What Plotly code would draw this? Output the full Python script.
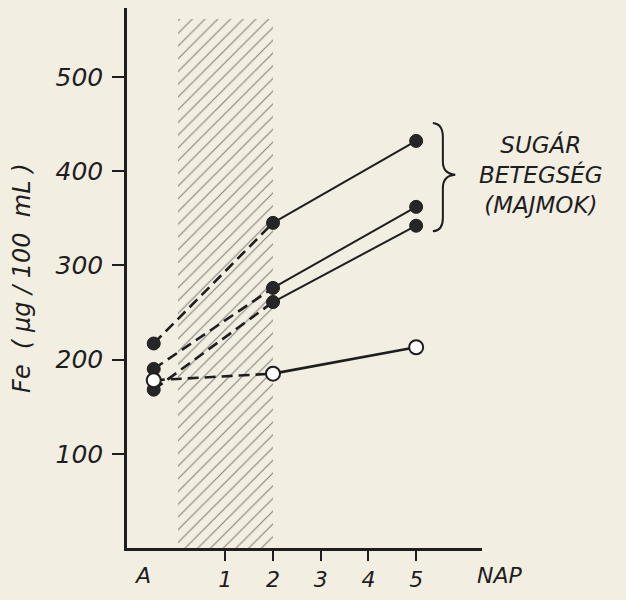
import plotly.graph_objects as go

# ---- data ----
A_POS = -0.5                      # position of the "A" (baseline) measurement
days_label = ["1", "2", "3", "4", "5"]
days_vals = [1, 2, 3, 4, 5]
irradiation = [0, 2]              # hatched period (days)
hatch_top = 561

ill_A = [217, 190, 168]           # radiation-sick monkeys, baseline
ill_d2 = [345, 276, 261]          # day 2
ill_d5 = [432, 362, 342]          # day 5

ctrl_A = [178]
ctrl_d2 = [185]
ctrl_d5 = [213]

yticks = [100, 200, 300, 400, 500]

INK = "#1e1e1e"
BG = "#f3eee2"
FONT = "DejaVu Sans"

fig = go.Figure()

# hatched irradiation period
fig.add_trace(go.Bar(
    x=[(irradiation[0] + irradiation[1]) / 2], y=[hatch_top], base=0,
    width=[irradiation[1] - irradiation[0]],
    marker=dict(color="rgba(0,0,0,0)", line=dict(width=0),
                pattern=dict(shape="/", size=9, solidity=0.13,
                             fgcolor="#1a1a1a", bgcolor="rgba(0,0,0,0)")),
    showlegend=False, hoverinfo="skip"))

def series(a, d2, d5, filled):
    fig.add_trace(go.Scatter(x=[A_POS, 2], y=[a, d2], mode="lines",
                             line=dict(color=INK, width=2.6, dash="11px,6px"),
                             showlegend=False))
    fig.add_trace(go.Scatter(x=[2, 5], y=[d2, d5], mode="lines",
                             line=dict(color=INK, width=2 if filled else 2.6),
                             showlegend=False))

for a, b, c in zip(ill_A, ill_d2, ill_d5):
    series(a, b, c, True)
for a, b, c in zip(ctrl_A, ctrl_d2, ctrl_d5):
    series(a, b, c, False)

# markers on top
fx, fy = [], []
for a, b, c in zip(ill_A, ill_d2, ill_d5):
    fx += [A_POS, 2, 5]; fy += [a, b, c]
fig.add_trace(go.Scatter(x=fx, y=fy, mode="markers",
                         marker=dict(size=13, color="#262626", line=dict(color=INK, width=1)),
                         showlegend=False))
ox, oy = [], []
for a, b, c in zip(ctrl_A, ctrl_d2, ctrl_d5):
    ox += [A_POS, 2, 5]; oy += [a, b, c]
fig.add_trace(go.Scatter(x=ox, y=oy, mode="markers",
                         marker=dict(size=14, color="white", line=dict(color=INK, width=2)),
                         showlegend=False))

# brace
fig.add_shape(type="path", xref="x", yref="y",
              path="M 5.35,451 Q 5.56,450 5.56,436 L 5.56,410 Q 5.56,397 5.82,396 "
                   "Q 5.56,395 5.56,382 L 5.56,350 Q 5.56,337 5.35,336",
              line=dict(color=INK, width=2))

fig.add_annotation(x=1.165, xref="paper", y=396, yref="y",
                   text="SUGÁR<br>BETEGSÉG<br>(MAJMOK)", showarrow=False,
                   align="center", xanchor="center", yanchor="middle",
                   font=dict(family=FONT, size=23, color=INK, style="italic"))

# A and NAP labels
fig.add_annotation(x=A_POS - 0.23, xref="x", y=0, yref="paper", yshift=-27,
                   text="A", showarrow=False, yanchor="middle",
                   font=dict(family=FONT, size=22, color=INK, style="italic"))
fig.add_annotation(x=1.05, xref="paper", y=0, yref="paper", yshift=-27,
                   text="NAP", showarrow=False, yanchor="middle", xanchor="center",
                   font=dict(family=FONT, size=22, color=INK, style="italic"))

# y title
fig.add_annotation(x=-0.296, xref="paper", y=0.5, yref="paper",
                   text="Fe  ( µg / 100  mL )", textangle=-90, showarrow=False,
                   xanchor="center", yanchor="middle",
                   font=dict(family=FONT, size=24, color=INK, style="italic"))

fig.update_layout(
    width=626, height=600,
    margin=dict(l=127, r=144, t=8, b=43),
    paper_bgcolor=BG, plot_bgcolor=BG,
    bargap=0,
    xaxis=dict(range=[-1.06, 6.38], showgrid=False, zeroline=False,
               showline=True, linecolor=INK, linewidth=2.5,
               tickvals=days_vals, ticktext=days_label,
               ticks="outside", ticklen=10, tickwidth=2, tickcolor=INK,
               tickfont=dict(family=FONT, size=22, color=INK, style="italic")),
    yaxis=dict(range=[0, 573], showgrid=False, zeroline=False,
               showline=True, linecolor=INK, linewidth=2.5,
               tickvals=yticks, ticks="outside", ticklen=12, tickwidth=2,
               tickcolor=INK, ticklabelstandoff=4,
               tickfont=dict(family=FONT, size=25, color=INK, style="italic")),
)

fig.write_html("out.html")
